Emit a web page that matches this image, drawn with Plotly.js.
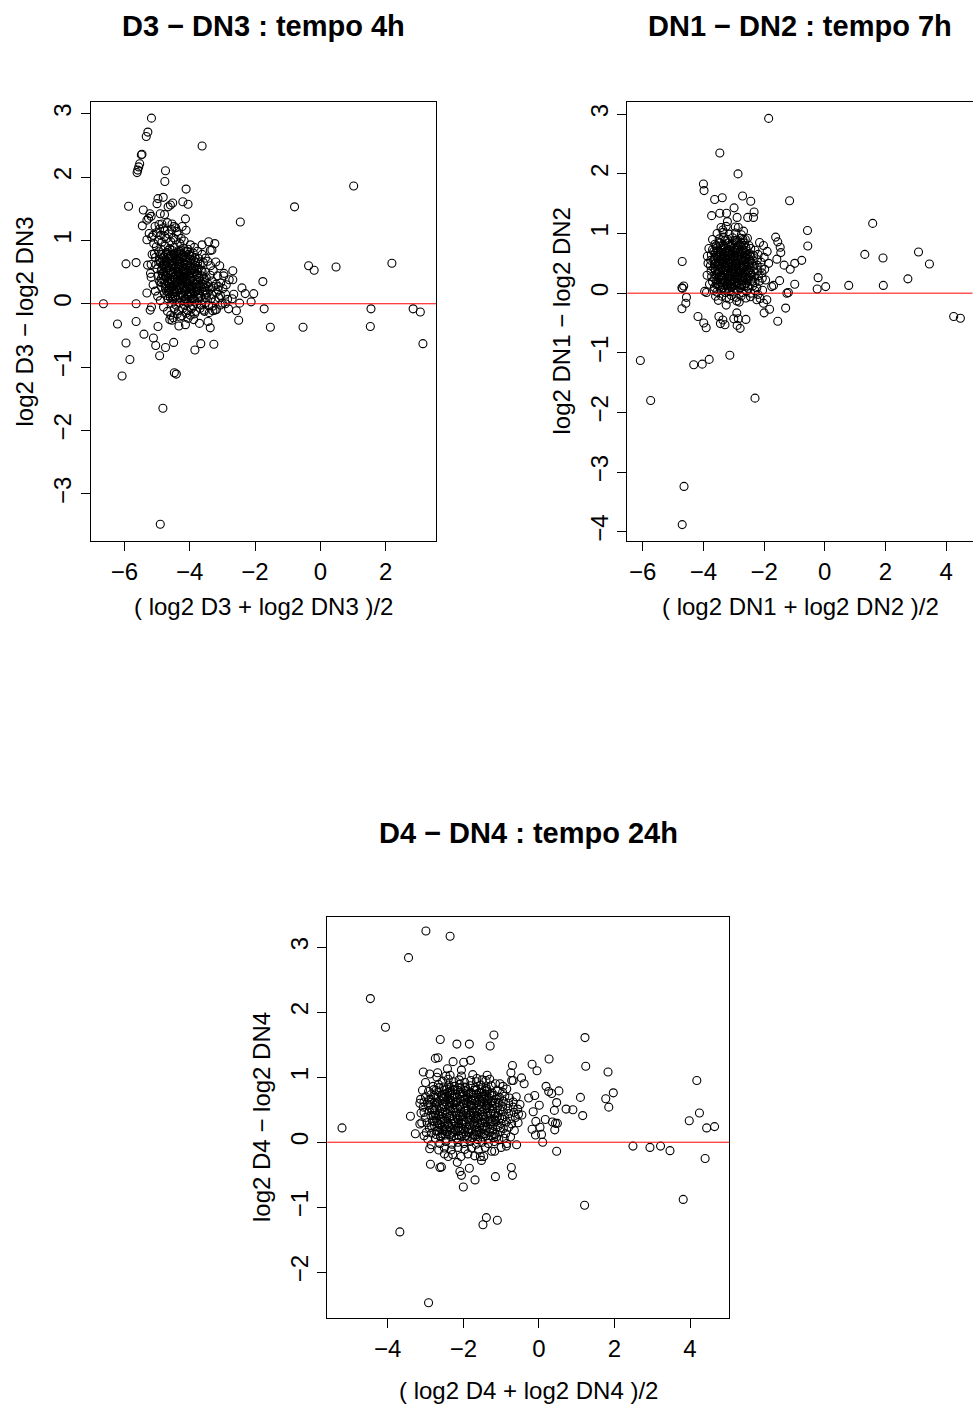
<!DOCTYPE html>
<html>
<head>
<meta charset="utf-8">
<script src="https://cdn.plot.ly/plotly-3.0.1.min.js"></script>
<style>html,body{margin:0;padding:0;background:#fff;}#chart{width:973px;height:1405px;}</style>
</head>
<body>
<div id="chart"></div>
<script>
// ---------- Titles and labels ----------
const panelTitles = ["D3 \u2212 DN3 : tempo 4h", "DN1 \u2212 DN2 : tempo 7h", "D4 \u2212 DN4 : tempo 24h"];
const xLabels = ["( log2 D3 + log2 DN3 )/2", "( log2 DN1 + log2 DN2 )/2", "( log2 D4 + log2 DN4 )/2"];
const yLabels = ["log2 D3 \u2212 log2 DN3", "log2 DN1 \u2212 log2 DN2", "log2 D4 \u2212 log2 DN4"];
const xTicks1 = [-6, -4, -2, 0, 2];
const yTicks1 = [-3, -2, -1, 0, 1, 2, 3];
const xTicks2 = [-6, -4, -2, 0, 2, 4];
const yTicks2 = [-4, -3, -2, -1, 0, 1, 2, 3];
const xTicks3 = [-4, -2, 0, 2, 4];
const yTicks3 = [-2, -1, 0, 1, 2, 3];

// ---------- Panel 1: D3 - DN3 (A, M) ----------
const d3Points = [
[-5.17,2.93],[-5.28,2.71],[-5.33,2.64],[-5.46,2.36],[-5.48,2.35],[-5.53,2.21],[-5.56,2.16],[-5.59,2.11],[-5.61,2.07],
[-3.62,2.49],[-4.74,2.10],[-4.76,1.93],[1.02,1.86],[-4.11,1.81],[-0.79,1.53],[-5.87,1.54],
[-4.97,1.66],[-4.81,1.68],[-5.00,1.58],[-4.52,1.59],[-4.21,1.61],[-4.05,1.57],[-4.66,1.53],[-4.59,1.56],
[-5.42,1.48],[-5.22,1.42],[-5.18,1.38],[-4.90,1.42],[-4.77,1.41],[-4.13,1.34],[-5.45,1.23],[-5.31,1.32],[-5.26,1.35],
[-2.45,1.29],[-4.94,1.25],[-4.85,1.26],[-4.54,1.26],[-4.48,1.22],[-4.11,1.16],[-4.23,1.22],
[-5.24,1.11],[-5.31,1.01],[-5.12,1.08],[-4.76,1.06],[-4.39,1.14],
[-3.42,0.98],[-3.23,0.95],[-3.62,0.93],[-3.32,0.85],[-3.37,0.84],
[-5.95,0.63],[-5.64,0.65],[-0.36,0.60],[-0.19,0.53],[0.48,0.58],[2.19,0.64],[-5.29,0.61],[-5.18,0.42],
[-2.68,0.52],[-2.79,0.38],[-2.68,0.38],[-2.96,0.44],[-1.76,0.35],[-2.40,0.25],[-2.30,0.16],[-2.04,0.16],
[-2.65,0.15],[-2.70,0.08],[-2.12,0.03],[-2.47,0.01],[-5.31,0.17],[-6.64,0.00],[-5.64,0.00],
[-5.17,-0.05],[-5.21,-0.10],[-1.72,-0.08],[-2.57,-0.11],[-2.81,-0.08],[1.55,-0.08],[1.53,-0.36],
[2.84,-0.08],[3.06,-0.13],[3.14,-0.63],[-2.50,-0.26],[-1.53,-0.37],[-0.53,-0.37],[-6.21,-0.32],[-5.64,-0.28],
[-4.97,-0.36],[-5.40,-0.48],[-5.95,-0.62],[-5.11,-0.54],[-5.04,-0.66],[-4.74,-0.69],[-4.92,-0.82],[-4.49,-0.61],
[-3.84,-0.73],[-3.66,-0.63],[-3.26,-0.64],[-3.70,-0.31],[-3.44,-0.28],[-3.37,-0.38],[-5.83,-0.88],[-6.07,-1.14],
[-4.47,-1.09],[-4.41,-1.11],[-4.82,-1.65],[-4.90,-3.48],
[-4.61,-0.25],[-4.54,-0.26],[-4.33,-0.35],[-4.13,-0.33],[-4.05,-0.23],[-4.29,-0.21],[-3.88,-0.25],
[-3.29,-0.11],[-3.22,-0.10],[-3.06,-0.02],[-2.91,0.00],[-3.57,-0.10],
[-5.02,0.90],[-4.88,0.86],[-4.75,0.91],[-4.61,0.87],[-4.47,0.89],[-4.33,0.84],[-4.19,0.88],[-4.05,0.86],
[-5.08,0.79],[-4.95,0.82],[-4.83,0.78],[-4.70,0.81],[-4.56,0.77],[-4.43,0.80],[-4.29,0.79],[-4.16,0.82],[-4.02,0.78],[-3.89,0.80],
[-5.05,0.73],[-4.93,0.70],[-4.80,0.74],[-4.66,0.71],[-4.52,0.73],[-4.40,0.69],[-4.26,0.72],[-4.12,0.74],[-3.98,0.70],[-3.84,0.73],[-3.72,0.71],
[-5.03,0.62],[-4.90,0.65],[-4.77,0.61],[-4.64,0.64],[-4.50,0.60],[-4.37,0.63],[-4.23,0.65],[-4.10,0.61],[-3.96,0.64],[-3.82,0.60],[-3.68,0.62],[-3.58,0.65],
[-5.00,0.55],[-4.87,0.52],[-4.73,0.56],[-4.60,0.53],[-4.47,0.55],[-4.34,0.51],[-4.20,0.54],[-4.06,0.56],[-3.93,0.52],[-3.79,0.55],[-3.65,0.53],[-3.52,0.50],
[-4.97,0.44],[-4.84,0.47],[-4.71,0.43],[-4.58,0.46],[-4.44,0.44],[-4.31,0.47],[-4.18,0.43],[-4.04,0.45],[-3.90,0.42],[-3.77,0.46],[-3.63,0.44],[-3.49,0.41],[-3.37,0.45],
[-4.92,0.35],[-4.79,0.38],[-4.66,0.34],[-4.53,0.37],[-4.40,0.35],[-4.27,0.38],[-4.13,0.34],[-4.00,0.36],[-3.86,0.33],[-3.73,0.37],[-3.59,0.35],[-3.45,0.32],[-3.31,0.36],[-3.19,0.31],
[-4.86,0.26],[-4.73,0.29],[-4.61,0.25],[-4.48,0.28],[-4.35,0.26],[-4.21,0.29],[-4.08,0.25],[-3.95,0.27],[-3.81,0.24],[-3.68,0.28],[-3.54,0.26],[-3.40,0.23],[-3.27,0.27],[-3.13,0.22],
[-4.78,0.17],[-4.65,0.20],[-4.52,0.16],[-4.39,0.19],[-4.26,0.17],[-4.13,0.20],[-4.00,0.16],[-3.86,0.18],[-3.73,0.15],[-3.59,0.19],[-3.46,0.17],[-3.32,0.14],[-3.18,0.18],[-3.06,0.13],
[-4.66,0.08],[-4.53,0.11],[-4.41,0.07],[-4.28,0.10],[-4.15,0.08],[-4.02,0.11],[-3.89,0.07],[-3.76,0.09],[-3.62,0.06],[-3.49,0.10],[-3.35,0.08],[-3.22,0.05],
[-4.55,0.01],[-4.42,-0.02],[-4.30,0.02],[-4.17,-0.01],[-4.04,0.01],[-3.91,-0.03],[-3.78,0.00],[-3.64,-0.02],[-3.51,0.02],
[-4.47,-0.08],[-4.34,-0.11],[-4.21,-0.07],[-4.08,-0.10],[-3.95,-0.08],[-3.81,-0.12],[-3.68,-0.07],
[-4.38,-0.16],[-4.24,-0.19],[-4.11,-0.15],[-3.98,-0.18],[-3.85,-0.16],
[-4.82,0.60],[-4.69,0.49],[-4.55,0.68],[-4.43,0.57],[-4.30,0.41],[-4.17,0.62],[-4.05,0.50],[-3.93,0.29],[-4.76,0.32],[-4.63,0.22],
[-4.49,0.41],[-4.36,0.13],[-4.24,0.31],[-4.11,0.22],[-3.99,0.41],[-3.87,0.12],[-4.58,0.76],[-4.45,0.63],[-4.33,0.71],[-4.20,0.47],
[-4.09,0.33],[-3.96,0.57],[-4.70,0.13],[-4.87,0.40],[-4.91,0.68],[-4.15,0.04],[-3.70,0.21],[-3.55,0.39],[-3.62,0.51],[-3.43,0.27],
[-4.73,0.52],[-4.60,0.40],[-4.47,0.30],[-4.34,0.58],[-4.21,0.38],[-4.08,0.68],[-3.95,0.16],[-4.85,0.55],[-4.72,0.66],[-4.59,0.10],
[-4.46,0.19],[-4.32,0.49],[-4.19,0.26],[-4.06,0.14],[-3.92,0.48],[-3.80,0.31],[-4.67,0.78],[-4.53,0.84],[-4.40,0.76],[-4.27,0.85],
[-4.14,0.54],[-3.83,0.66],[-3.70,0.40],[-3.58,0.26],
[-4.89,0.78],[-4.76,0.69],[-4.63,0.57],[-4.50,0.50],[-4.38,0.66],[-4.25,0.59],[-4.12,0.48],[-3.99,0.60],[-3.86,0.51],[-3.74,0.56],
[-4.86,0.33],[-4.74,0.44],[-4.62,0.31],[-4.49,0.23],[-4.37,0.42],[-4.23,0.36],[-4.10,0.40],[-3.97,0.23],[-3.84,0.38],[-3.72,0.30],
[-4.71,0.20],[-4.58,0.28],[-4.45,0.12],[-4.32,0.24],[-4.19,0.12],[-4.06,0.30],[-3.93,0.08],[-3.80,0.20],[-3.66,0.12],[-3.53,0.20],
[-4.80,0.50],[-4.66,0.84],[-4.51,0.64],[-4.38,0.50],[-4.26,0.79],[-4.13,0.70],[-4.00,0.76],[-3.88,0.69],[-3.75,0.65],[-4.44,0.38],
[-4.83,0.71],[-4.70,0.60],[-4.57,0.49],[-4.44,0.71],[-4.31,0.62],[-4.18,0.51],[-4.05,0.65],[-3.92,0.55],[-3.79,0.46],
[-4.81,0.44],[-4.68,0.35],[-4.55,0.26],[-4.42,0.46],[-4.29,0.29],[-4.16,0.41],[-4.03,0.27],[-3.90,0.36],[-3.77,0.26],
[-4.64,0.16],[-4.51,0.07],[-4.38,0.22],[-4.25,0.14],[-4.12,0.07],[-3.99,0.19],[-3.86,0.04],[-3.73,0.10],
[-4.78,0.64],[-4.62,0.74],[-4.48,0.79],[-4.35,0.81],[-4.21,0.76],[-4.08,0.83],[-3.94,0.75],
[-4.74,0.24],[-4.56,0.34],[-4.41,0.28],[-4.27,0.44],[-4.14,0.28],[-4.00,0.49],[-3.88,0.24],[-3.60,0.31],[-3.50,0.14],
[-5.10,0.95],[-4.96,1.00],[-4.85,0.97],[-4.71,1.03],[-4.58,0.98],[-4.43,1.01],[-4.30,0.95],[-4.17,0.99],[-3.98,0.93],[-5.16,1.05],
[-5.02,1.12],[-4.89,1.08],[-4.76,1.15],[-4.64,1.10],[-4.50,1.04],[-4.35,1.09],[-4.92,1.18],[-4.80,1.20],[-4.55,1.17],[-5.06,1.22],
[-4.68,1.28],[-4.43,1.20],[-4.26,1.03],[-3.86,0.89],[-3.76,0.83],[-3.62,0.78],[-3.52,0.72],
[-3.28,0.52],[-3.15,0.44],[-3.05,0.33],[-2.98,0.24],[-2.90,0.15],[-2.84,0.07],[-3.10,0.09],[-3.00,0.01],[-3.30,-0.04],[-3.18,-0.09],
[-3.40,-0.14],[-3.55,-0.12],[-3.08,0.60],[-3.20,0.66],[-3.36,0.60],[-2.95,0.48],[-3.45,0.67],[-2.88,0.30],[-3.42,-0.03],[-3.12,0.27],
[-5.05,0.20],[-4.98,0.12],[-4.90,0.05],[-5.12,0.30],[-4.80,-0.05],[-4.68,-0.12],[-4.58,-0.18],[-4.50,-0.22],[-5.20,0.48],[-5.15,0.78],[-5.18,0.62]
];

// ---------- Panel 2: DN1 - DN2 (A, M) ----------
const dn12Points = [
[-1.85,2.93],[-3.46,2.35],[-2.86,2.00],[-4.00,1.83],[-3.98,1.72],[-3.63,1.57],[-3.38,1.60],[-2.71,1.63],[-2.44,1.54],[-1.16,1.55],
[-3.73,1.30],[-3.46,1.34],[-3.24,1.34],[-2.99,1.43],[-2.89,1.27],[-2.54,1.27],[-2.35,1.27],[-2.33,1.36],
[-3.21,1.20],[-3.42,1.10],[-3.36,1.06],[-2.95,1.11],[-2.85,1.10],[-2.68,1.04],[1.58,1.17],[-0.57,1.05],[-0.56,0.79],
[-1.62,0.94],[-1.55,0.86],[-1.47,0.77],[-1.45,0.68],[-1.58,0.57],[-0.76,0.55],[-0.99,0.50],[-1.34,0.47],[-1.14,0.40],
[1.32,0.65],[1.92,0.59],[3.09,0.69],[3.45,0.49],[2.74,0.24],[0.79,0.13],[1.93,0.13],[-0.22,0.26],[-0.25,0.07],[0.03,0.11],
[-0.99,0.15],[-1.49,0.21],[-1.69,0.13],[-1.75,0.11],[-1.25,0.00],[-1.20,0.01],[-4.70,0.53],[-3.87,0.62],
[-4.69,0.08],[-4.65,0.12],[-4.71,0.09],[-4.56,-0.07],[-4.58,-0.17],[-4.71,-0.26],[-3.96,0.03],[-3.90,0.01],
[-4.18,-0.39],[-3.99,-0.50],[-3.91,-0.58],[-3.49,-0.39],[-3.44,-0.51],[-3.29,-0.53],[-3.36,-0.45],
[-2.90,-0.33],[-3.00,-0.43],[-2.85,-0.43],[-2.89,-0.54],[-2.79,-0.59],[-2.60,-0.44],[-2.00,-0.33],[-1.82,-0.27],[-1.29,-0.25],[-1.55,-0.47],
[4.25,-0.39],[4.47,-0.42],[-6.08,-1.13],[-4.32,-1.20],[-4.04,-1.19],[-3.81,-1.11],[-3.13,-1.04],[-5.74,-1.80],[-2.30,-1.76],
[-4.64,-3.24],[-4.70,-3.88],
[-3.51,-0.12],[-3.25,-0.20],[-2.82,-0.15],[-2.90,-0.13],[-2.24,-0.11],[-2.13,-0.09],[-1.91,-0.11],[-2.02,-0.17],[-3.65,0.05],
[-3.48,0.91],[-3.33,0.94],[-3.19,0.90],[-3.04,0.93],[-2.90,0.89],[-2.76,0.92],[-2.62,0.90],
[-3.62,0.82],[-3.48,0.85],[-3.34,0.81],[-3.20,0.84],[-3.06,0.82],[-2.92,0.85],[-2.78,0.81],[-2.64,0.84],[-2.50,0.80],
[-3.70,0.73],[-3.56,0.76],[-3.42,0.72],[-3.28,0.75],[-3.14,0.73],[-3.00,0.76],[-2.86,0.72],[-2.72,0.74],[-2.58,0.71],[-2.44,0.75],[-2.30,0.72],
[-3.74,0.64],[-3.60,0.67],[-3.46,0.63],[-3.32,0.66],[-3.18,0.64],[-3.04,0.67],[-2.90,0.63],[-2.76,0.65],[-2.62,0.62],[-2.48,0.66],[-2.34,0.63],[-2.20,0.65],
[-3.76,0.55],[-3.62,0.58],[-3.48,0.54],[-3.34,0.57],[-3.20,0.55],[-3.06,0.58],[-2.92,0.54],[-2.78,0.56],[-2.64,0.53],[-2.50,0.57],[-2.36,0.54],[-2.22,0.56],[-2.10,0.52],
[-3.77,0.46],[-3.63,0.49],[-3.49,0.45],[-3.35,0.48],[-3.21,0.46],[-3.07,0.49],[-2.93,0.45],[-2.79,0.47],[-2.65,0.44],[-2.51,0.48],[-2.37,0.45],[-2.23,0.47],[-2.09,0.43],
[-3.75,0.37],[-3.61,0.40],[-3.47,0.36],[-3.33,0.39],[-3.19,0.37],[-3.05,0.40],[-2.91,0.36],[-2.77,0.38],[-2.63,0.35],[-2.49,0.39],[-2.35,0.36],[-2.21,0.38],[-2.07,0.34],
[-3.73,0.28],[-3.59,0.31],[-3.45,0.27],[-3.31,0.30],[-3.17,0.28],[-3.03,0.31],[-2.89,0.27],[-2.75,0.29],[-2.61,0.26],[-2.47,0.30],[-2.33,0.27],[-2.19,0.29],[-2.06,0.25],
[-3.70,0.19],[-3.56,0.22],[-3.42,0.18],[-3.28,0.21],[-3.14,0.19],[-3.00,0.22],[-2.86,0.18],[-2.72,0.20],[-2.58,0.17],[-2.44,0.21],[-2.30,0.18],[-2.16,0.20],
[-3.64,0.10],[-3.50,0.13],[-3.36,0.09],[-3.22,0.12],[-3.08,0.10],[-2.94,0.13],[-2.80,0.09],[-2.66,0.11],[-2.52,0.08],[-2.38,0.12],[-2.24,0.09],
[-3.56,0.02],[-3.42,0.05],[-3.28,0.01],[-3.14,0.04],[-3.00,0.02],[-2.86,0.05],[-2.72,0.01],[-2.58,0.03],[-2.44,0.00],[-2.30,0.04],
[-3.40,-0.05],[-3.24,-0.08],[-3.08,-0.04],[-2.92,-0.07],[-2.76,-0.05],[-2.60,-0.08],
[-3.55,0.60],[-3.40,0.42],[-3.26,0.70],[-3.12,0.52],[-2.98,0.33],[-2.84,0.61],[-2.70,0.43],[-2.56,0.24],[-3.50,0.25],[-3.36,0.14],
[-3.22,0.34],[-3.09,0.15],[-2.95,0.71],[-2.81,0.51],[-2.68,0.80],[-3.44,0.79],[-3.30,0.88],[-3.16,0.43],[-3.02,0.55],[-2.88,0.24],
[-2.74,0.13],[-3.66,0.42],[-3.58,0.15],[-2.46,0.62],[-2.40,0.30],
[-3.52,0.70],[-3.38,0.52],[-3.24,0.24],[-3.10,0.78],[-2.97,0.62],[-2.83,0.40],[-2.69,0.30],[-2.55,0.50],[-3.46,0.10],[-3.32,0.34],
[-3.18,0.08],[-3.04,0.45],[-2.90,0.16],[-2.76,0.70],[-2.62,0.58],[-3.60,0.50],[-3.66,0.70],[-3.42,0.62],[-3.12,0.62],[-2.86,0.80],
[-2.52,0.38],[-3.28,0.44],[-2.98,0.08],
[-3.66,0.55],[-3.53,0.40],[-3.39,0.29],[-3.25,0.50],[-3.11,0.35],[-2.97,0.50],[-2.83,0.30],[-2.69,0.55],[-2.55,0.65],[-2.41,0.50],
[-3.63,0.24],[-3.49,0.35],[-3.35,0.22],[-3.21,0.16],[-3.07,0.25],[-2.93,0.40],[-2.79,0.22],[-2.65,0.15],[-2.51,0.27],[-2.37,0.20],
[-3.58,0.80],[-3.44,0.68],[-3.30,0.60],[-3.16,0.80],[-3.02,0.70],[-2.88,0.68],[-2.74,0.60],[-2.60,0.76],[-3.20,0.28],[-2.92,0.06],
[-3.36,0.76],[-3.06,0.12],[-2.80,0.35],[-3.50,0.48],[-2.64,0.46],[-3.14,0.57],[-2.96,0.88],[-3.30,0.06],
[-3.57,0.64],[-3.43,0.56],[-3.29,0.68],[-3.15,0.64],[-3.01,0.60],[-2.87,0.56],[-2.73,0.64],[-2.59,0.60],[-2.47,0.54],
[-3.55,0.33],[-3.41,0.25],[-3.27,0.38],[-3.13,0.30],[-2.99,0.42],[-2.85,0.34],[-2.71,0.26],[-2.57,0.40],[-2.45,0.34],
[-3.52,0.16],[-3.38,0.18],[-3.24,0.14],[-3.10,0.20],[-2.96,0.18],[-2.82,0.14],[-2.68,0.22],[-2.54,0.12],
[-3.45,0.84],[-3.31,0.78],[-3.17,0.70],[-3.03,0.84],[-2.89,0.76],[-2.75,0.84],[-2.61,0.68],
[-3.47,0.45],[-3.33,0.50],[-3.19,0.52],[-3.05,0.36],[-2.91,0.50],[-2.77,0.44],[-2.63,0.32],[-3.60,0.38],
[-3.85,0.50],[-3.88,0.30],[-3.82,0.75],[-3.80,0.15],[-2.00,0.60],[-1.98,0.40],[-2.02,0.80],[-1.95,0.22],[-2.05,0.05],[-3.55,1.00],
[-3.35,1.02],[-3.15,0.99],[-2.95,1.01],[-2.75,0.98],[-2.55,0.92],[-3.25,1.12],[-2.70,0.90],[-2.15,0.85],[-1.90,0.70],[-1.85,0.50],
[-3.70,0.90],[-3.15,-0.10],[-2.45,-0.06],[-2.20,-0.02],[-3.60,-0.05]
];

// ---------- Panel 3: D4 - DN4 (A, M) ----------
const d4Points = [
[-2.99,3.25],[-2.35,3.17],[-3.45,2.84],[-4.46,2.21],[-4.06,1.77],[-1.19,1.65],[1.22,1.61],[-2.61,1.58],
[-2.17,1.51],[-1.84,1.51],[-1.29,1.48],[0.27,1.28],[-0.18,1.20],[-0.05,1.10],[-0.70,1.18],[-0.74,1.07],[-0.72,0.95],[-0.68,0.95],
[-0.46,0.99],[-0.39,0.90],[1.24,1.17],[1.83,1.08],[4.18,0.95],[1.97,0.76],[1.77,0.67],[1.85,0.54],[1.10,0.69],[1.16,0.41],
[0.72,0.51],[0.90,0.50],[0.53,0.79],[0.19,0.86],[0.26,0.78],[0.34,0.75],[0.47,0.61],[0.41,0.49],[-0.11,0.72],[0.01,0.57],[-0.27,0.68],
[0.17,0.35],[0.36,0.31],[0.49,0.29],[0.42,0.19],[0.44,0.29],[-0.15,0.47],[-0.08,0.32],[0.03,0.23],[0.07,0.12],[-0.09,0.11],[-0.18,0.20],
[0.10,0.00],[0.47,-0.14],[3.98,0.33],[4.25,0.45],[4.44,0.22],[4.65,0.24],[4.40,-0.25],[3.82,-0.88],
[2.49,-0.06],[2.94,-0.08],[3.22,-0.06],[3.47,-0.13],[1.21,-0.97],[-5.21,0.22],[-3.40,0.40],
[-3.27,0.13],[-3.15,0.28],[-3.04,0.10],[-3.13,0.66],[-3.06,1.08],[-2.89,1.05],[-2.68,1.07],[-2.74,1.29],[-2.67,1.30],
[-2.42,1.13],[-2.27,1.24],[-1.99,1.23],[-1.81,1.26],[-2.05,1.11],[-2.46,1.02],[-1.64,0.98],[-1.37,1.03],[-1.03,0.90],
[-2.89,-0.10],[-2.87,-0.34],[-2.62,-0.39],[-2.58,-0.38],[-2.50,-0.18],[-2.16,-0.31],[-2.09,-0.45],[-2.05,-0.51],[-2.00,-0.69],
[-1.84,-0.40],[-1.69,-0.58],[-1.52,-0.28],[-1.46,-0.22],[-1.15,-0.53],[-0.73,-0.39],[-0.70,-0.51],
[-1.39,-1.16],[-1.48,-1.27],[-1.10,-1.20],[-3.68,-1.38],[-2.92,-2.47],[-0.59,-0.04],[-0.86,-0.06],[-1.17,-0.14],
[-2.55,0.94],[-2.40,0.97],[-2.26,0.93],[-2.11,0.96],[-1.96,0.92],[-1.80,0.95],[-1.65,0.93],[-1.50,0.96],
[-2.80,0.86],[-2.66,0.89],[-2.52,0.85],[-2.38,0.88],[-2.24,0.86],[-2.10,0.89],[-1.96,0.85],[-1.82,0.87],[-1.68,0.84],[-1.54,0.88],[-1.40,0.85],[-1.26,0.87],
[-2.92,0.78],[-2.78,0.81],[-2.64,0.77],[-2.50,0.80],[-2.36,0.78],[-2.22,0.81],[-2.08,0.77],[-1.94,0.79],[-1.80,0.76],[-1.66,0.80],[-1.52,0.77],[-1.38,0.79],[-1.24,0.76],[-1.10,0.80],[-0.96,0.77],
[-3.00,0.70],[-2.86,0.73],[-2.72,0.69],[-2.58,0.72],[-2.44,0.70],[-2.30,0.73],[-2.16,0.69],[-2.02,0.71],[-1.88,0.68],[-1.74,0.72],[-1.60,0.69],[-1.46,0.71],[-1.32,0.68],[-1.18,0.72],[-1.04,0.69],[-0.90,0.71],[-0.78,0.68],
[-3.04,0.62],[-2.90,0.65],[-2.76,0.61],[-2.62,0.64],[-2.48,0.62],[-2.34,0.65],[-2.20,0.61],[-2.06,0.63],[-1.92,0.60],[-1.78,0.64],[-1.64,0.61],[-1.50,0.63],[-1.36,0.60],[-1.22,0.64],[-1.08,0.61],[-0.94,0.63],[-0.80,0.60],[-0.68,0.62],
[-3.06,0.54],[-2.92,0.57],[-2.78,0.53],[-2.64,0.56],[-2.50,0.54],[-2.36,0.57],[-2.22,0.53],[-2.08,0.55],[-1.94,0.52],[-1.80,0.56],[-1.66,0.53],[-1.52,0.55],[-1.38,0.52],[-1.24,0.56],[-1.10,0.53],[-0.96,0.55],[-0.82,0.52],[-0.68,0.54],[-0.56,0.51],
[-3.04,0.46],[-2.90,0.49],[-2.76,0.45],[-2.62,0.48],[-2.48,0.46],[-2.34,0.49],[-2.20,0.45],[-2.06,0.47],[-1.92,0.44],[-1.78,0.48],[-1.64,0.45],[-1.50,0.47],[-1.36,0.44],[-1.22,0.48],[-1.08,0.45],[-0.94,0.47],[-0.80,0.44],[-0.66,0.46],[-0.54,0.43],
[-3.00,0.38],[-2.86,0.41],[-2.72,0.37],[-2.58,0.40],[-2.44,0.38],[-2.30,0.41],[-2.16,0.37],[-2.02,0.39],[-1.88,0.36],[-1.74,0.40],[-1.60,0.37],[-1.46,0.39],[-1.32,0.36],[-1.18,0.40],[-1.04,0.37],[-0.90,0.39],[-0.76,0.36],[-0.62,0.38],
[-2.96,0.30],[-2.82,0.33],[-2.68,0.29],[-2.54,0.32],[-2.40,0.30],[-2.26,0.33],[-2.12,0.29],[-1.98,0.31],[-1.84,0.28],[-1.70,0.32],[-1.56,0.29],[-1.42,0.31],[-1.28,0.28],[-1.14,0.32],[-1.00,0.29],[-0.86,0.31],[-0.72,0.28],
[-2.90,0.22],[-2.76,0.25],[-2.62,0.21],[-2.48,0.24],[-2.34,0.22],[-2.20,0.25],[-2.06,0.21],[-1.92,0.23],[-1.78,0.20],[-1.64,0.24],[-1.50,0.21],[-1.36,0.23],[-1.22,0.20],[-1.08,0.24],[-0.94,0.21],[-0.80,0.23],
[-2.84,0.14],[-2.70,0.17],[-2.56,0.13],[-2.42,0.16],[-2.28,0.14],[-2.14,0.17],[-2.00,0.13],[-1.86,0.15],[-1.72,0.12],[-1.58,0.16],[-1.44,0.13],[-1.30,0.15],[-1.16,0.12],[-1.02,0.16],[-0.88,0.13],
[-2.74,0.06],[-2.60,0.09],[-2.46,0.05],[-2.32,0.08],[-2.18,0.06],[-2.04,0.09],[-1.90,0.05],[-1.76,0.07],[-1.62,0.04],[-1.48,0.08],[-1.34,0.05],[-1.20,0.07],[-1.06,0.04],[-0.92,0.06],
[-2.62,-0.02],[-2.46,0.01],[-2.30,-0.03],[-2.14,0.00],[-1.98,-0.02],[-1.82,0.01],[-1.66,-0.03],[-1.50,0.00],[-1.34,-0.02],[-1.18,0.01],
[-2.50,-0.09],[-2.32,-0.12],[-2.14,-0.08],[-1.96,-0.11],[-1.78,-0.09],[-1.60,-0.12],[-1.42,-0.08],
[-2.28,-0.19],[-2.06,-0.22],[-1.88,-0.18],[-1.70,-0.21],
[-2.70,0.59],[-2.55,0.43],[-2.41,0.67],[-2.27,0.51],[-2.13,0.35],[-1.99,0.59],[-1.85,0.42],[-1.71,0.26],[-1.57,0.66],[-1.43,0.50],
[-1.29,0.34],[-2.62,0.27],[-2.48,0.11],[-2.35,0.75],[-2.21,0.19],[-2.07,0.83],[-1.93,0.10],[-1.79,0.74],[-1.65,0.18],[-1.51,0.82],
[-2.80,0.41],[-2.39,0.54],[-2.18,0.62],[-1.87,0.50],[-1.62,0.40],[-1.37,0.65],[-1.15,0.45],[-2.30,0.28],[-2.00,0.20],[-1.45,0.24],
[-2.75,0.50],[-2.60,0.35],[-2.45,0.20],[-2.33,0.60],[-2.19,0.42],[-2.05,0.28],[-1.91,0.70],[-1.77,0.56],[-1.63,0.30],[-1.49,0.42],
[-1.35,0.58],[-1.21,0.26],[-2.52,0.68],[-2.25,0.10],[-1.98,0.48],[-1.70,0.10],[-1.42,0.74],[-2.85,0.66],[-2.10,0.74],[-1.83,0.34],
[-1.56,0.50],[-1.27,0.44],[-1.05,0.60],[-0.98,0.36],[-2.68,0.18],[-2.44,0.82],
[-2.88,0.58],[-2.73,0.42],[-2.58,0.52],[-2.43,0.44],[-2.29,0.68],[-2.15,0.52],[-2.01,0.42],[-1.87,0.62],[-1.73,0.46],[-1.59,0.58],
[-1.45,0.66],[-1.31,0.52],[-1.17,0.60],[-1.03,0.50],[-2.84,0.25],[-2.70,0.33],[-2.56,0.19],[-2.42,0.28],[-2.28,0.36],[-2.14,0.22],
[-2.00,0.34],[-1.86,0.20],[-1.72,0.38],[-1.58,0.22],[-1.44,0.35],[-1.30,0.20],[-1.16,0.34],[-1.02,0.22],[-2.78,0.72],[-2.64,0.84],
[-2.50,0.74],[-2.36,0.84],[-2.22,0.74],[-2.08,0.66],[-1.94,0.84],[-1.80,0.66],[-1.66,0.74],[-1.52,0.70],[-1.38,0.82],[-1.24,0.72],
[-2.60,0.08],[-2.36,0.12],[-2.12,0.10],[-1.88,0.08],[-1.64,0.12],[-1.40,0.10],[-1.12,0.08],
[-2.82,0.50],[-2.67,0.62],[-2.53,0.58],[-2.38,0.62],[-2.24,0.58],[-2.10,0.56],[-1.96,0.66],[-1.82,0.58],[-1.68,0.64],[-1.54,0.62],[-1.40,0.56],[-1.26,0.62],[-1.12,0.66],
[-2.78,0.32],[-2.64,0.42],[-2.50,0.36],[-2.36,0.40],[-2.22,0.30],[-2.08,0.40],[-1.94,0.28],[-1.80,0.42],[-1.66,0.36],[-1.52,0.30],[-1.38,0.40],[-1.24,0.32],[-1.10,0.40],
[-2.72,0.12],[-2.52,0.18],[-2.38,0.24],[-2.24,0.16],[-2.10,0.18],[-1.96,0.16],[-1.82,0.26],[-1.68,0.16],[-1.54,0.14],[-1.40,0.18],[-1.26,0.10],
[-2.72,0.80],[-2.56,0.70],[-2.42,0.76],[-2.28,0.80],[-2.14,0.80],[-2.00,0.76],[-1.86,0.74],[-1.72,0.80],[-1.58,0.76],[-1.44,0.80],[-1.30,0.74],
[-3.15,0.60],[-3.12,0.45],[-3.10,0.30],[-3.08,0.80],[-3.00,0.92],[-2.98,0.15],[-2.94,0.05],[-2.85,-0.04],[-2.70,1.00],[-2.35,1.03],
[-2.05,1.02],[-1.75,1.04],[-1.40,0.95],[-1.15,0.90],[-0.95,0.86],[-0.60,0.70],[-0.50,0.58],[-0.45,0.42],[-0.55,0.30],[-0.65,0.18],
[-0.75,0.08],[-0.85,-0.02],[-1.00,-0.08],[-1.25,-0.14],[-2.65,-0.12],[-2.40,-0.22],[-1.55,-0.22],[-1.30,0.97],[-0.85,0.82]
];

// ---------- Build ----------
const FONT = "Liberation Sans, Arial, Helvetica, sans-serif";
const W = 973, H = 1405;
function px(x) { return x / W; }
function py(y) { return 1 - y / H; }

function scatter(points, xa, ya) {
  return {
    type: "scatter", mode: "markers",
    x: points.map(p => p[0]), y: points.map(p => p[1]),
    xaxis: xa, yaxis: ya,
    marker: { symbol: "circle-open", size: 8, color: "#000", line: { width: 1.1, color: "#000" } },
    hoverinfo: "x+y", showlegend: false, cliponaxis: true
  };
}

function axisBase(extra) {
  return Object.assign({
    showgrid: false, zeroline: false, showline: true, mirror: true,
    linecolor: "#000", linewidth: 1,
    ticks: "outside", ticklen: 9, tickwidth: 1, tickcolor: "#000",
    tickmode: "array",
    tickfont: { family: FONT, size: 24, color: "#000" },
    fixedrange: true
  }, extra);
}

const traces = [
  scatter(d3Points, "x", "y"),
  scatter(dn12Points, "x2", "y2"),
  scatter(d4Points, "x3", "y3")
];

const layout = {
  width: W, height: H,
  margin: { l: 0, r: 0, t: 0, b: 0 },
  paper_bgcolor: "#fff", plot_bgcolor: "#fff",
  showlegend: false,
  font: { family: FONT, color: "#000" },
  xaxis: axisBase({ domain: [px(90.7), px(436)], range: [-7.03, 3.54], tickvals: xTicks1, anchor: "y" }),
  yaxis: axisBase({ domain: [py(540.7), py(102.3)], range: [-3.74, 3.18], tickvals: yTicks1, tickangle: -90, anchor: "x" }),
  xaxis2: axisBase({ domain: [px(627.3), px(972.5)], range: [-6.51, 4.87], tickvals: xTicks2, anchor: "y2" }),
  yaxis2: axisBase({ domain: [py(540.7), py(102.3)], range: [-4.15, 3.20], tickvals: yTicks2, tickangle: -90, anchor: "x2" }),
  xaxis3: axisBase({ domain: [px(327.3), px(729.3)], range: [-5.60, 5.04], tickvals: xTicks3, anchor: "y3" }),
  yaxis3: axisBase({ domain: [py(1317.7), py(916.7)], range: [-2.70, 3.47], tickvals: yTicks3, tickangle: -90, anchor: "x3" }),
  shapes: [
    { type: "line", xref: "x domain", yref: "y", x0: 0, x1: 1, y0: 0, y1: 0, line: { color: "red", width: 1 } },
    { type: "line", xref: "x2 domain", yref: "y2", x0: 0, x1: 1, y0: 0, y1: 0, line: { color: "red", width: 1 } },
    { type: "line", xref: "x3 domain", yref: "y3", x0: 0, x1: 1, y0: 0, y1: 0, line: { color: "red", width: 1 } }
  ],
  annotations: []
};

const titlePos = [[263, 26], [800, 26], [528.5, 833]];
const xLabPos = [[263, 607], [800.5, 607], [528.5, 1390]];
const yLabPos = [[24, 321.5], [561, 321.5], [261, 1117]];
for (let i = 0; i < 3; i++) {
  layout.annotations.push({
    text: "<b>" + panelTitles[i] + "</b>", xref: "paper", yref: "paper",
    x: px(titlePos[i][0]), y: py(titlePos[i][1]), xanchor: "center", yanchor: "middle",
    showarrow: false, font: { family: FONT, size: 29, color: "#000" }
  });
  layout.annotations.push({
    text: xLabels[i], xref: "paper", yref: "paper",
    x: px(xLabPos[i][0]), y: py(xLabPos[i][1]), xanchor: "center", yanchor: "middle",
    showarrow: false, font: { family: FONT, size: 24, color: "#000" }
  });
  layout.annotations.push({
    text: yLabels[i], xref: "paper", yref: "paper", textangle: -90,
    x: px(yLabPos[i][0]), y: py(yLabPos[i][1]), xanchor: "center", yanchor: "middle",
    showarrow: false, font: { family: FONT, size: 24, color: "#000" }
  });
}

Plotly.newPlot("chart", traces, layout, { staticPlot: true, displayModeBar: false });
</script>
</body>
</html>
